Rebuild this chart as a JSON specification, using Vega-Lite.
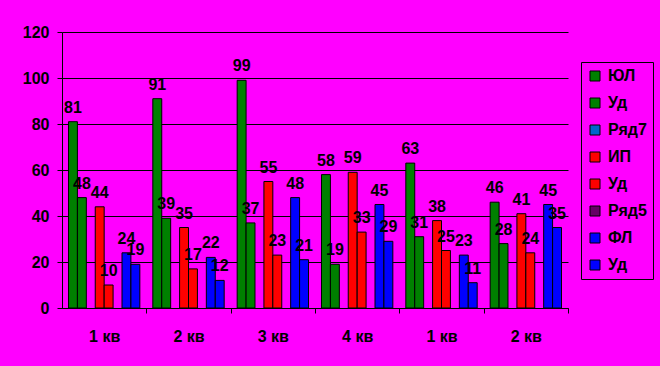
{
  "$schema": "https://vega.github.io/schema/vega-lite/v6.json",
  "width": 506,
  "height": 276,
  "autosize": {"type": "none"},
  "padding": {"left": 62, "top": 32, "right": 92, "bottom": 58},
  "background": "#FF00FF",
  "data": {
    "values": [
      {"period": "1 кв", "series": "ЮЛ", "value": 81},
      {"period": "1 кв", "series": "ЮЛ Уд", "value": 48},
      {"period": "1 кв", "series": "ИП", "value": 44},
      {"period": "1 кв", "series": "ИП Уд", "value": 10},
      {"period": "1 кв", "series": "ФЛ", "value": 24},
      {"period": "1 кв", "series": "ФЛ Уд", "value": 19},
      {"period": "2 кв", "series": "ЮЛ", "value": 91},
      {"period": "2 кв", "series": "ЮЛ Уд", "value": 39},
      {"period": "2 кв", "series": "ИП", "value": 35},
      {"period": "2 кв", "series": "ИП Уд", "value": 17},
      {"period": "2 кв", "series": "ФЛ", "value": 22},
      {"period": "2 кв", "series": "ФЛ Уд", "value": 12},
      {"period": "3 кв", "series": "ЮЛ", "value": 99},
      {"period": "3 кв", "series": "ЮЛ Уд", "value": 37},
      {"period": "3 кв", "series": "ИП", "value": 55},
      {"period": "3 кв", "series": "ИП Уд", "value": 23},
      {"period": "3 кв", "series": "ФЛ", "value": 48},
      {"period": "3 кв", "series": "ФЛ Уд", "value": 21},
      {"period": "4 кв", "series": "ЮЛ", "value": 58},
      {"period": "4 кв", "series": "ЮЛ Уд", "value": 19},
      {"period": "4 кв", "series": "ИП", "value": 59},
      {"period": "4 кв", "series": "ИП Уд", "value": 33},
      {"period": "4 кв", "series": "ФЛ", "value": 45},
      {"period": "4 кв", "series": "ФЛ Уд", "value": 29},
      {"period": "1 кв (2)", "series": "ЮЛ", "value": 63},
      {"period": "1 кв (2)", "series": "ЮЛ Уд", "value": 31},
      {"period": "1 кв (2)", "series": "ИП", "value": 38},
      {"period": "1 кв (2)", "series": "ИП Уд", "value": 25},
      {"period": "1 кв (2)", "series": "ФЛ", "value": 23},
      {"period": "1 кв (2)", "series": "ФЛ Уд", "value": 11},
      {"period": "2 кв (2)", "series": "ЮЛ", "value": 46},
      {"period": "2 кв (2)", "series": "ЮЛ Уд", "value": 28},
      {"period": "2 кв (2)", "series": "ИП", "value": 41},
      {"period": "2 кв (2)", "series": "ИП Уд", "value": 24},
      {"period": "2 кв (2)", "series": "ФЛ", "value": 45},
      {"period": "2 кв (2)", "series": "ФЛ Уд", "value": 35}
    ]
  },
  "encoding": {
    "x": {
      "field": "period",
      "type": "nominal",
      "scale": {
        "domain": ["1 кв", "2 кв", "3 кв", "4 кв", "1 кв (2)", "2 кв (2)"],
        "paddingInner": 0.154,
        "paddingOuter": 0.077
      },
      "axis": {
        "title": null,
        "labelAngle": 0,
        "bandPosition": 1,
        "tickOffset": 6.5,
        "labelOffset": -6.5,
        "tickSize": 5,
        "labelPadding": 15,
        "labelExpr": "split(datum.label, ' (')[0]"
      }
    },
    "xOffset": {
      "field": "series",
      "type": "nominal",
      "scale": {
        "domain": ["ЮЛ", "ЮЛ Уд", "Ряд7", "ИП", "ИП Уд", "Ряд5", "ФЛ", "ФЛ Уд"],
        "paddingInner": 0,
        "paddingOuter": 0
      }
    },
    "y": {
      "field": "value",
      "type": "quantitative",
      "scale": {"domain": [0, 120], "nice": false},
      "axis": {
        "title": null,
        "values": [0, 20, 40, 60, 80, 100, 120],
        "grid": true,
        "tickSize": 5,
        "labelPadding": 8
      }
    }
  },
  "layer": [
    {
      "mark": {"type": "bar", "stroke": "black", "strokeWidth": 1},
      "encoding": {
        "color": {
          "field": "series",
          "type": "nominal",
          "scale": {
            "domain": ["ЮЛ", "ЮЛ Уд", "Ряд7", "ИП", "ИП Уд", "Ряд5", "ФЛ", "ФЛ Уд"],
            "range": ["#008000", "#008000", "#0066CC", "#FF0000", "#FF0000", "#660066", "#0000FF", "#0000FF"]
          },
          "legend": {
            "orient": "none",
            "legendX": 519,
            "legendY": 30,
            "title": null,
            "strokeColor": "black",
            "padding": 6,
            "symbolType": "square",
            "symbolSize": 100,
            "symbolStrokeColor": "black",
            "symbolStrokeWidth": 1,
            "symbolOpacity": 1,
            "labelFontSize": 16,
            "labelFont": "Liberation Sans",
            "labelFontWeight": "bold",
            "labelColor": "black",
            "labelOffset": 5,
            "rowPadding": 11,
            "labelExpr": "peek(split(datum.label, ' '))"
          }
        }
      }
    },
    {
      "mark": {
        "type": "text",
        "baseline": "alphabetic",
        "dy": -9,
        "fontSize": 16,
        "font": "Liberation Sans",
        "fontWeight": "bold",
        "fill": "black"
      },
      "encoding": {"text": {"field": "value", "type": "quantitative"}}
    }
  ],
  "config": {
    "view": {"stroke": null},
    "axis": {
      "labelFont": "Liberation Sans",
      "labelFontSize": 16,
      "labelFontWeight": "bold",
      "labelColor": "black",
      "domainColor": "black",
      "domainWidth": 1,
      "tickColor": "black",
      "tickWidth": 1,
      "gridColor": "black",
      "gridOpacity": 1,
      "gridWidth": 1
    }
  }
}
